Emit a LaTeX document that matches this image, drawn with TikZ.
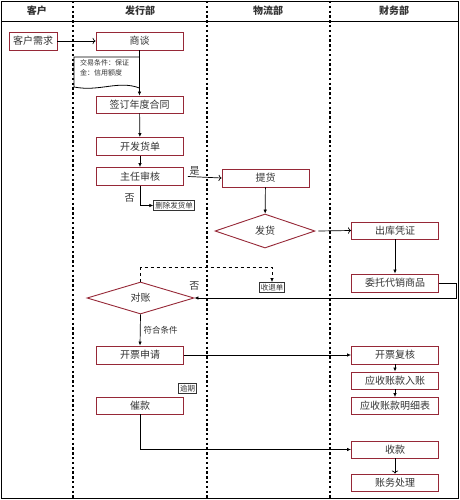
\documentclass[tikz,border=0pt]{standalone}
\usepackage{fontspec}
\setmainfont{Noto Sans CJK SC}
\usetikzlibrary{shapes.geometric,arrows.meta,positioning}
\definecolor{boxred}{RGB}{150,40,55}
\begin{document}
\begin{tikzpicture}[x=1pt,y=-1pt]
\tikzstyle{every node}=[font=\fontsize{10}{11}\selectfont, inner sep=1pt, text=black!80]
\tikzstyle{process}=[draw=boxred, line width=0.9pt, fill=white, minimum width=87pt, minimum height=18pt]
\tikzstyle{decision}=[diamond, draw=boxred, line width=0.9pt, fill=white, inner sep=0pt]
\tikzstyle{note}=[draw=black!80, line width=0.8pt, font=\fontsize{7.5}{8}\selectfont, inner sep=1.5pt]
\tikzstyle{lane}=[line width=1.6pt, dash pattern=on 2.4pt off 2.4pt]
\tikzstyle{flow}=[line width=0.7pt, -{Latex[length=4pt,width=3.5pt]}]
\tikzstyle{open flow}=[line width=0.7pt, -{To[length=3pt]}]
\useasboundingbox (0,0) rectangle (459,500);
% frame and lanes
\draw[line width=0.9pt] (1.5,1) rectangle (458,498);
\draw[line width=0.9pt] (1.5,21) -- (458,21);
\foreach \x in {73,207,330}
  \draw[lane] (\x,1) -- (\x,498);
\node[font=\fontsize{10}{11}\selectfont\bfseries] (h1) at (37,11) {客户};
\node[font=\fontsize{10}{11}\selectfont\bfseries] (h2) at (140,11) {发行部};
\node[font=\fontsize{10}{11}\selectfont\bfseries] (h3) at (268,11) {物流部};
\node[font=\fontsize{10}{11}\selectfont\bfseries] (h4) at (394,11) {财务部};
% customer and issuing department
\node[process, minimum width=48pt] (need) at (33,41) {客户需求};
\node[process] (talk) at (139.5,41) {商谈};
\draw[line width=0.8pt, fill=white] (74,57) -- (139.5,57) -- (139.5,88)
  .. controls (118,80) and (100,92) .. (74,87) -- cycle;
\node[anchor=north west, align=left, font=\fontsize{7}{10}\selectfont] (terms) at (79,58.5) {交易条件：保证\\金：信用额度};
\node[process, minimum height=17pt] (contract) at (139.5,104.5) {签订年度合同};
\node[process] (invoice) at (140,146.5) {开发货单};
\node[process] (review) at (140,176.5) {主任审核};
\node[note] (delete) at (174,205.5) {删除发货单};
% logistics
\node[process] (pickup) at (265.5,178) {提货};
\node[decision, minimum width=100pt, minimum height=34pt] (ship) at (265,231) {发货};
\node[note] (slip) at (272,287.5) {收退单};
% finance
\node[process, minimum height=17pt] (outbound) at (395,230.5) {出库凭证};
\node[process] (consign) at (395,283) {委托代销商品};
\node[decision, minimum width=107pt, minimum height=32pt] (check) at (140.5,298) {对账};
\node[process] (billreq) at (140,355) {开票申请};
\node[process] (billchk) at (395,355) {开票复核};
\node[process, minimum height=17pt] (arentry) at (395,380.5) {应收账款入账};
\node[process, minimum height=17pt] (ardetail) at (395,406) {应收账款明细表};
\node[note] (overdue) at (187.5,388.5) {逾期};
\node[process, minimum height=17pt] (remind) at (140,405.5) {催款};
\node[process, minimum height=17pt] (collect) at (395,449.5) {收款};
\node[process, minimum height=17pt] (settle) at (395,482.5) {账务处理};
% connectors
\draw[open flow] (need) -- (talk);
\draw[flow] (talk) -- (contract);
\draw[flow] (contract) -- (invoice);
\draw[flow] (invoice) -- (review);
\draw[open flow] ([xshift=4pt]review.east) -- (pickup.west) node[pos=0.2, above] {是};
\draw[flow] (review.south) |- (delete.west) node[pos=0.3, left=4pt] {否};
\draw[flow] (pickup) -- (ship);
\draw[open flow] ([xshift=3pt]ship.east) -- (outbound.west);
\draw[flow] (outbound) -- (consign);
\draw[flow] (consign.east) -- ++(17,0) |- (check.east) node[pos=1, above=6pt] {否};
\draw[flow, dashed] (check.north) -- ++(0,-14) -| (slip.north);
\draw[flow] (check.south) -- (billreq.north) node[midway, right=2pt, font=\fontsize{8.5}{9}\selectfont] {符合条件};
\draw[flow] (billreq) -- (billchk);
\draw[flow] (billchk) -- (arentry);
\draw[flow] (arentry) -- (ardetail);
\draw[flow] (remind.south) |- (collect.west);
\draw[open flow] (collect) -- (settle);
\end{tikzpicture}
\end{document}
